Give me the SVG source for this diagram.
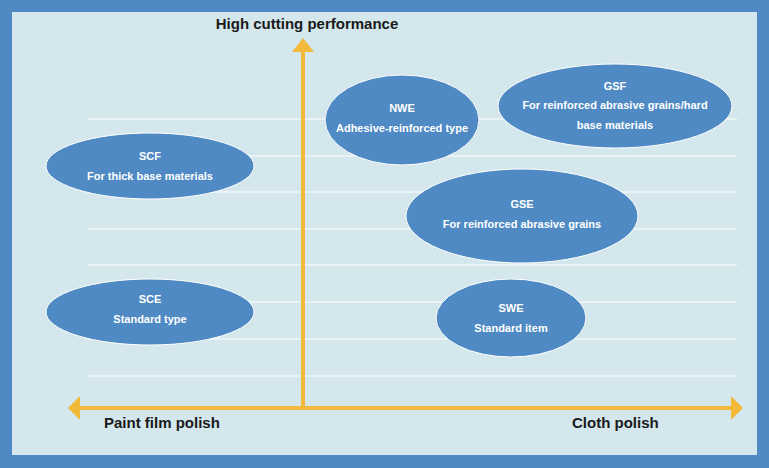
<svg xmlns="http://www.w3.org/2000/svg" width="769" height="468" viewBox="0 0 769 468">
<style>
.g{stroke:#ffffff;stroke-width:1.2}
.e{fill:#4f8ac4;stroke:#ffffff;stroke-width:1}
.t{font-family:"Liberation Sans",Arial,sans-serif;font-weight:bold;font-size:11px;fill:#ffffff;text-anchor:middle}
.l{font-family:"Liberation Sans",Arial,sans-serif;font-weight:bold;font-size:15px;fill:#1a1a1a}
.a{stroke:#f2b93b;stroke-width:4;fill:none}
.h{fill:#f2b93b}
</style>
<rect x="0" y="0" width="769" height="468" fill="#4f8ac4"/>
<rect x="12" y="12" width="745" height="443" fill="#d3e7ec"/>
<g id="grid">
<line class="g" x1="88" y1="119" x2="737" y2="119"/>
<line class="g" x1="88" y1="156" x2="737" y2="156"/>
<line class="g" x1="88" y1="192" x2="737" y2="192"/>
<line class="g" x1="88" y1="229" x2="737" y2="229"/>
<line class="g" x1="88" y1="265" x2="737" y2="265"/>
<line class="g" x1="88" y1="302" x2="737" y2="302"/>
<line class="g" x1="88" y1="339" x2="737" y2="339"/>
<line class="g" x1="88" y1="376" x2="737" y2="376"/>
</g>
<g id="connectors">
<line class="a" x1="303" y1="410" x2="303" y2="50"/>
<polygon class="h" points="303,38 292,52 314,52"/>
<line class="a" x1="78" y1="408" x2="732" y2="408"/>
<polygon class="h" points="68,408 80,396 80,420"/>
<polygon class="h" points="743,408 731,396 731,420"/>
</g>
<text class="l" x="307" y="29" text-anchor="middle">High cutting performance</text>
<text class="l" x="104" y="428">Paint film polish</text>
<text class="l" x="572" y="428">Cloth polish</text>
<g id="NWE"><ellipse class="e" cx="402" cy="120" rx="77" ry="45"/><text class="t" x="402" y="112">NWE</text><text class="t" x="402" y="132">Adhesive-reinforced type</text></g>
<g id="GSF"><ellipse class="e" cx="615" cy="106" rx="117" ry="42"/><text class="t" x="615" y="90">GSF</text><text class="t" x="615" y="109">For reinforced abrasive grains/hard</text><text class="t" x="615" y="129">base materials</text></g>
<g id="SCF"><ellipse class="e" cx="150" cy="166" rx="104" ry="33"/><text class="t" x="150" y="160">SCF</text><text class="t" x="150" y="180">For thick base materials</text></g>
<g id="GSE"><ellipse class="e" cx="522" cy="216" rx="116" ry="47"/><text class="t" x="522" y="208">GSE</text><text class="t" x="522" y="228">For reinforced abrasive grains</text></g>
<g id="SCE"><ellipse class="e" cx="150" cy="312" rx="104" ry="33"/><text class="t" x="150" y="303">SCE</text><text class="t" x="150" y="323">Standard type</text></g>
<g id="SWE"><ellipse class="e" cx="511" cy="318" rx="75" ry="39"/><text class="t" x="511" y="312">SWE</text><text class="t" x="511" y="332">Standard item</text></g>
</svg>
